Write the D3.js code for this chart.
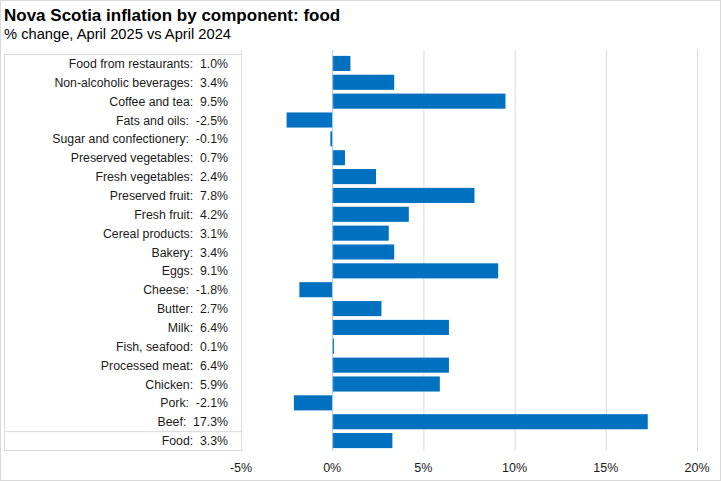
<!DOCTYPE html>
<html><head><meta charset="utf-8">
<script src="https://cdn.jsdelivr.net/npm/d3@7/dist/d3.min.js"></script>
<style>
body{margin:0;padding:0;background:#fff;}
text{font-family:"Liberation Sans",Arial,sans-serif;}
</style></head>
<body><svg id="c" width="721" height="481"></svg>
<script>
const categories = ["Food from restaurants","Non-alcoholic beverages","Coffee and tea","Fats and oils","Sugar and confectionery","Preserved vegetables","Fresh vegetables","Preserved fruit","Fresh fruit","Cereal products","Bakery","Eggs","Cheese","Butter","Milk","Fish, seafood","Processed meat","Chicken","Pork","Beef","Food"];
const values = [1.0,3.4,9.5,-2.5,-0.1,0.7,2.4,7.8,4.2,3.1,3.4,9.1,-1.8,2.7,6.4,0.1,6.4,5.9,-2.1,17.3,3.3];
const tickValues = [-5,0,5,10,15,20];
const tickLabels = ["-5%","0%","5%","10%","15%","20%"];

const svg = d3.select("#c");
const W = 721, H = 481;
svg.append("rect").attr("x",0.5).attr("y",0.5).attr("width",W-1).attr("height",H-1)
  .attr("fill","#fff").attr("stroke","#d9d9d9");

svg.append("text").attr("x",4).attr("y",21).attr("font-size",17).attr("font-weight","bold")
  .attr("fill","#000").text("Nova Scotia inflation by component: food");
svg.append("text").attr("x",4).attr("y",39).attr("font-size",14.7)
  .attr("fill","#000").text("% change, April 2025 vs April 2024");

const x = d3.scaleLinear().domain([-5,20]).range([241,697]);
const y = d3.scaleBand().domain(d3.range(categories.length)).range([54,450]).paddingInner(0.2).paddingOuter(0.1);
const yRow = d3.scaleBand().domain(d3.range(categories.length)).range([54,450]);

// gridlines
svg.append("g").selectAll("line").data(tickValues.filter(v=>v!==0)).join("line")
  .attr("x1",d=>x(d)+0.5).attr("x2",d=>x(d)+0.5).attr("y1",50).attr("y2",451)
  .attr("stroke","#d9d9d9").attr("stroke-width",1);

// tick labels
svg.append("g").selectAll("text").data(tickValues).join("text")
  .attr("x",(d)=>x(d)).attr("y",472).attr("text-anchor","middle").attr("font-size",12.5)
  .attr("fill","#1a1a1a").text((d,i)=>tickLabels[i]);

// label box
svg.append("rect").attr("x",4.5).attr("y",54.5).attr("width",237).attr("height",396)
  .attr("fill","none").attr("stroke","#d9d9d9");
svg.append("line").attr("x1",4).attr("x2",241).attr("y1",yRow(20)+0.5).attr("y2",yRow(20)+0.5)
  .attr("stroke","#d9d9d9");

// bars
svg.append("g").selectAll("rect").data(values).join("rect")
  .attr("x",d=>x(Math.min(0,d))).attr("width",d=>Math.max(1,Math.abs(x(d)-x(0))))
  .attr("y",(d,i)=>y(i)).attr("height",y.bandwidth()).attr("fill","#0070C0");

// zero line
svg.append("line").attr("x1",x(0)+0.5).attr("x2",x(0)+0.5).attr("y1",50).attr("y2",451)
  .attr("stroke","#a9c8e6").attr("stroke-width",1);

// category labels
svg.append("g").selectAll("text").data(categories).join("text")
  .attr("x",228).attr("y",(d,i)=>yRow(i)+yRow.bandwidth()/2+4.5).attr("text-anchor","end")
  .attr("font-size",12.3).attr("fill","#1a1a1a")
  .attr("xml:space","preserve").style("white-space","pre")
  .text((d,i)=>d+":  "+values[i].toFixed(1)+"%");
</script></body></html>
